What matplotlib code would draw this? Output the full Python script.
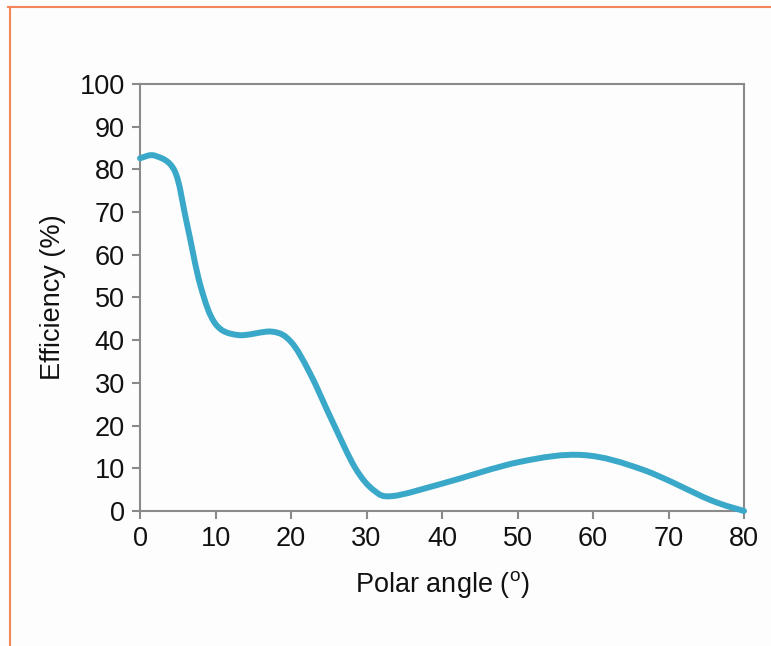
import matplotlib

matplotlib.use("Agg")
import matplotlib.pyplot as plt
from matplotlib.lines import Line2D
from matplotlib.path import Path
from matplotlib.patches import PathPatch

# values (polar angle in degrees, efficiency in %)
angle = [0.0, 2.0, 4.6, 6.2, 8.0, 10.0, 13.0, 17.5, 20.0, 22.5, 25.5, 28.5,
         31.0, 33.5, 40.2, 50.3, 58.7, 66.7, 75.5, 80.0]
efficiency = [82.6, 83.2, 79.6, 67.4, 52.8, 43.8, 41.2, 42.0, 39.6, 32.3, 20.9,
              10.1, 4.8, 3.5, 6.5, 11.5, 13.1, 9.6, 2.6, 0.0]
xticks = list(range(0, 81, 10))
yticks = list(range(0, 101, 10))

plt.rcParams["font.family"] = ["Liberation Sans", "DejaVu Sans"]
plt.rcParams["mathtext.fontset"] = "custom"
plt.rcParams["mathtext.rm"] = "Liberation Sans"


def smooth_path(xs, ys):
    # Excel-style smoothed line: cubic Bezier segments through the points
    pts = list(zip(xs, ys))
    verts = [pts[0]]
    codes = [Path.MOVETO]
    for i in range(len(pts) - 1):
        p0 = pts[max(i - 1, 0)]
        p1, p2 = pts[i], pts[i + 1]
        p3 = pts[min(i + 2, len(pts) - 1)]
        c1 = (p1[0] + (p2[0] - p0[0]) / 6, p1[1] + (p2[1] - p0[1]) / 6)
        c2 = (p2[0] - (p3[0] - p1[0]) / 6, p2[1] - (p3[1] - p1[1]) / 6)
        verts += [c1, c2, p2]
        codes += [Path.CURVE4] * 3
    return Path(verts, codes)


fig = plt.figure(figsize=(7.71, 6.46), dpi=100)
fig.patch.set_facecolor("#fdfdfd")
ax = fig.add_axes([0.1816, 0.209, 0.7834, 0.661])
ax.set_facecolor("#fdfdfd")

curve = PathPatch(smooth_path(angle, efficiency), fill=False, edgecolor="#3aa8c8",
                  lw=4.3, capstyle="round", joinstyle="round", clip_on=False,
                  zorder=3)
ax.add_patch(curve)

ax.set_xlim(0, 80)
ax.set_ylim(0, 100)
ax.set_xticks(xticks)
ax.set_yticks(yticks)
for s in ax.spines.values():
    s.set_color("#8a8a8a")
    s.set_linewidth(1.5)
ax.tick_params(direction="out", length=6, width=1.5, color="#8a8a8a",
               labelsize=19.5, labelcolor="#111111", pad=5)
ax.set_xlabel(r"Polar angle ($^{\mathrm{o}}$)", fontsize=19.5, color="#111111",
              labelpad=12)
ax.set_ylabel("Efficiency (%)", fontsize=19.5, color="#111111", labelpad=10)

# orange frame edges (top and left)
fig.add_artist(Line2D([8 / 771, 1], [1 - 7 / 646, 1 - 7 / 646],
                      transform=fig.transFigure, color="#f2875a", lw=1.5))
fig.add_artist(Line2D([10 / 771, 10 / 771], [1 - 7 / 646, 0],
                      transform=fig.transFigure, color="#f2875a", lw=1.5))

fig.savefig("out.png", dpi=100, facecolor=fig.get_facecolor())
